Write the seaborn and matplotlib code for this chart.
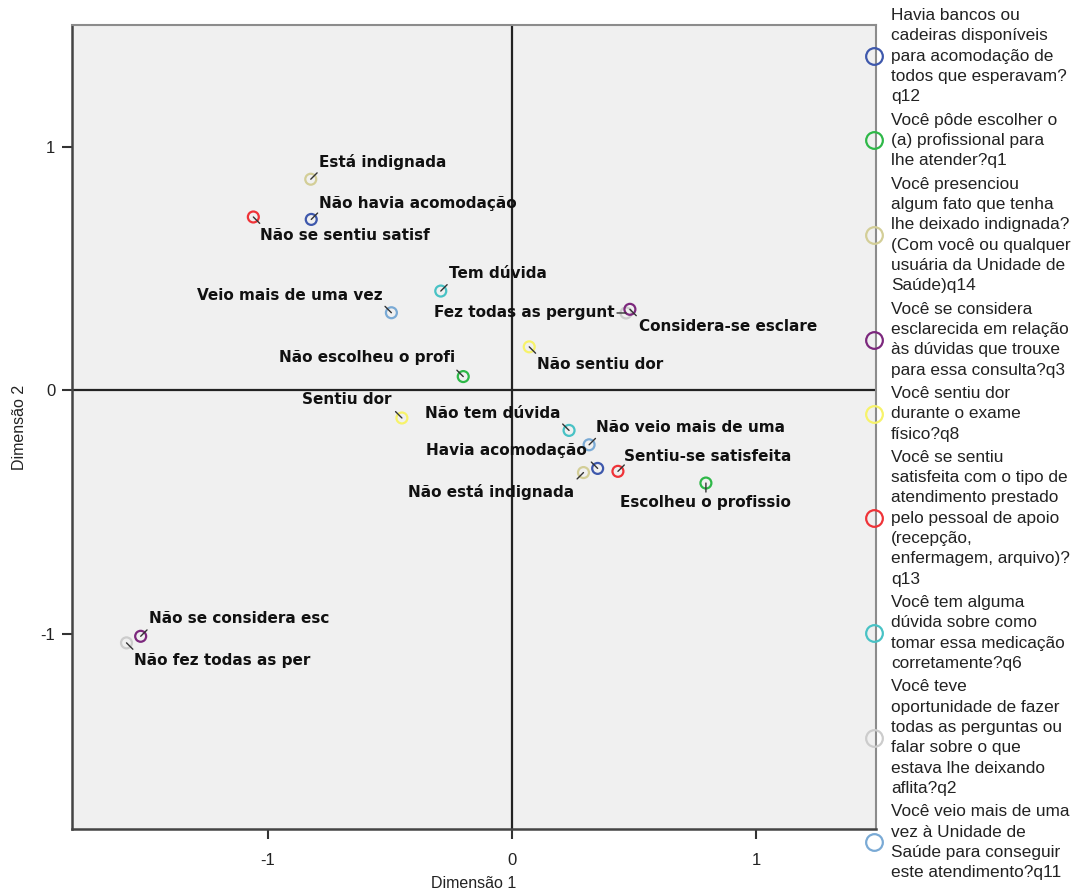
import numpy as np
import pandas as pd
import matplotlib
matplotlib.use("Agg")
import matplotlib.pyplot as plt
from matplotlib.lines import Line2D
import seaborn as sns

# ── Data: category points of the MCA joint plot ─────────────────
VARS = ["q12", "q1", "q14", "q3", "q8", "q13", "q6", "q2", "q11"]

VAR_LABELS = [
    "Havia bancos ou\ncadeiras disponíveis\npara acomodação de\ntodos que esperavam?\nq12",
    "Você pôde escolher o\n(a) profissional para\nlhe atender?q1",
    "Você presenciou\nalgum fato que tenha\nlhe deixado indignada?\n(Com você ou qualquer\nusuária da Unidade de\nSaúde)q14",
    "Você se considera\nesclarecida em relação\nàs dúvidas que trouxe\npara essa consulta?q3",
    "Você sentiu dor\ndurante o exame\nfísico?q8",
    "Você se sentiu\nsatisfeita com o tipo de\natendimento prestado\npelo pessoal de apoio\n(recepção,\nenfermagem, arquivo)?\nq13",
    "Você tem alguma\ndúvida sobre como\ntomar essa medicação\ncorretamente?q6",
    "Você teve\noportunidade de fazer\ntodas as perguntas ou\nfalar sobre o que\nestava lhe deixando\naflita?q2",
    "Você veio mais de uma\nvez à Unidade de\nSaúde para conseguir\neste atendimento?q11",
]

VAR_COLORS = ["#3E58AC", "#2EB848", "#D3CE97", "#7C287D", "#F7F36A",
              "#EF3338", "#48C2C5", "#CCCCCC", "#7AAAD5"]

CATEGORIES = [
    "Está indignada", "Não havia acomodação", "Não se sentiu satisf",
    "Tem dúvida", "Veio mais de uma vez", "Fez todas as pergunt",
    "Considera-se esclare", "Não sentiu dor", "Não escolheu o profi",
    "Sentiu dor", "Não tem dúvida", "Não veio mais de uma",
    "Havia acomodação", "Não está indignada", "Sentiu-se satisfeita",
    "Escolheu o profissio", "Não se considera esc", "Não fez todas as per",
]
CAT_VAR = ["q14", "q12", "q13", "q6", "q11", "q2", "q3", "q8", "q1",
           "q8", "q6", "q11", "q12", "q14", "q13", "q1", "q3", "q2"]
DIM1 = [-0.823, -0.821, -1.058, -0.291, -0.493, 0.467, 0.483, 0.071, -0.199,
        -0.450, 0.234, 0.316, 0.351, 0.293, 0.434, 0.794, -1.519, -1.577]
DIM2 = [0.867, 0.702, 0.712, 0.408, 0.319, 0.318, 0.333, 0.179, 0.057,
        -0.113, -0.164, -0.223, -0.320, -0.337, -0.332, -0.380, -1.009, -1.036]

# label offsets (pixels) and alignment, SPSS-style placement
LABEL_DX = [8, 8, 7, 8, -9, -11, 9, 8, -8, -10, -9, 7, -11, -9, 6, 0, 8, 8]
LABEL_DY = [17, 16, -19, 18, 17, 0, -17, -18, 19, 18, 17, 17, 18, -19, 15, -19, 18, -18]

df = pd.DataFrame({"label": CATEGORIES, "var": CAT_VAR, "dim1": DIM1, "dim2": DIM2})

sns.set_style("white")
plt.rcParams["font.family"] = ["Liberation Sans", "DejaVu Sans"]
plt.rcParams["axes.unicode_minus"] = False

fig = plt.figure(figsize=(10.75, 8.96), dpi=100)
ax = fig.add_axes([72 / 1075, 67 / 896, 804 / 1075, 804 / 896])
ax.set_facecolor("#F0F0F0")

ax.axhline(0, color="#222222", lw=1.6, zorder=1)
ax.axvline(0, color="#222222", lw=1.6, zorder=1)

sns.scatterplot(data=df, x="dim1", y="dim2", hue="var", hue_order=VARS,
                palette=VAR_COLORS, s=62, legend=False, ax=ax, zorder=3)
coll = ax.collections[0]
fc = coll.get_facecolors()
coll.set_edgecolors(fc)
coll.set_facecolors("none")
coll.set_linewidths(1.6)

for i, row in df.iterrows():
    dx, dy = LABEL_DX[i], LABEL_DY[i]
    ux = np.sign(dx) if abs(dx) > 3 else 0.0
    uy = np.sign(dy) if abs(dy) > 3 else 0.0
    n = np.hypot(ux, uy)
    ux, uy = ux / n * 9, uy / n * 9
    ax.annotate("", xy=(row["dim1"], row["dim2"]), xytext=(ux, uy),
                textcoords="offset pixels",
                arrowprops=dict(arrowstyle="-", color="#333333", lw=1.0,
                                shrinkA=0, shrinkB=0), zorder=4)
    ha = "left" if dx > 3 else ("right" if dx < -3 else "center")
    ax.annotate(row["label"], xy=(row["dim1"], row["dim2"]), xytext=(dx, dy),
                textcoords="offset pixels", ha=ha, va="center",
                family="DejaVu Sans", fontsize=11, fontweight="bold",
                color="#111111", zorder=5)

ax.set_xlim(-1.8, 1.49)
ax.set_ylim(-1.8, 1.5)
ax.set_xticks([-1, 0, 1])
ax.set_yticks([-1, 0, 1])
ax.tick_params(bottom=True, left=True, direction="out", length=7, width=1.5,
               color="#333333", labelsize=12, labelcolor="#222222")
ax.tick_params(axis="x", pad=10)
ax.tick_params(axis="y", pad=5)
ax.set_xlabel("Dimensão 1", fontsize=11.5, color="#222222", labelpad=6)
ax.set_ylabel("Dimensão 2", fontsize=11.5, color="#222222", labelpad=10)

for side in ["left", "bottom"]:
    ax.spines[side].set_color("#444444")
    ax.spines[side].set_linewidth(1.8)
for side in ["top", "right"]:
    ax.spines[side].set_color("#8C8C8C")
    ax.spines[side].set_linewidth(1.5)

handles = [Line2D([], [], ls="", marker="o", ms=12, mfc="none", mec=c, mew=1.6)
           for c in VAR_COLORS]
leg = fig.legend(handles, VAR_LABELS, loc="upper left",
                 bbox_to_anchor=(865 / 1075, 1 - 8 / 896), frameon=False,
                 fontsize=12.4, handlelength=1.0, handletextpad=0.5,
                 labelspacing=0.48, borderpad=0, borderaxespad=0,
                 labelcolor="#222222")
for t in leg.get_texts():
    t.set_linespacing(1.445)

fig.savefig("out.png", dpi=100)
